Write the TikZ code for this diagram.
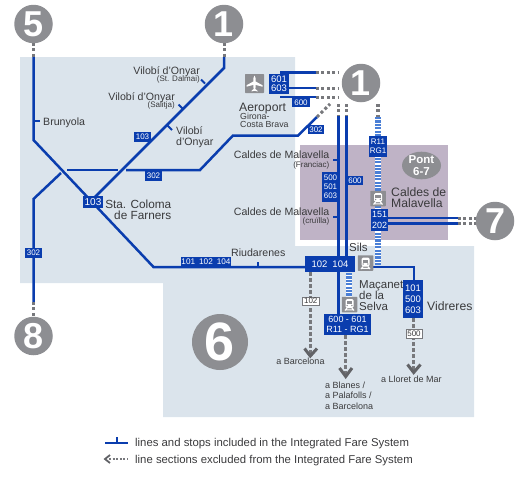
\documentclass[tikz,border=0pt]{standalone}
\usepackage{fontspec}
\usetikzlibrary{shapes.geometric}
\setmainfont{Liberation Sans}
\definecolor{zonea}{HTML}{DBE4EC}
\definecolor{zoneb}{HTML}{BFB3C6}
\definecolor{railc}{HTML}{0A3DAE}
\definecolor{stripe}{HTML}{4A7FD6}
\definecolor{discc}{HTML}{8D8E92}
\definecolor{dashg}{HTML}{77787C}
\definecolor{arrowg}{HTML}{626367}
\definecolor{txt}{HTML}{3A3A3C}
\newcommand\fs[1]{\fontsize{#1}{#1}\selectfont}
\tikzset{
 rail/.style={draw=railc,line width=2.5pt,line join=miter},
 tickm/.style={draw=railc,line width=2pt},
 offl/.style={draw=dashg,line width=3pt,dash pattern=on 3pt off 2.4pt},
 offlong/.style={draw=dashg,line width=3pt,dash pattern=on 3.5pt off 2.5pt},
 striped/.style={draw=stripe,line width=5.5pt,dash pattern=on 2.2pt off 1.2pt},
 stripeback/.style={draw=white,line width=5.5pt},
 chev/.style={draw=arrowg,line width=3pt,line join=miter},
 discn/.style={circle,fill=discc,inner sep=0pt,minimum size=38.5pt,text=white,font=\fs{36}\bfseries},
 bluebox/.style={fill=railc,text=white,inner sep=0pt,align=center,font=\fs{9}},
 whitebox/.style={fill=white,draw=dashg,line width=.7pt,text=txt,inner sep=0pt,font=\fs{8}},
 lab/.style={text=txt,inner sep=0pt,font=\fs{10.6}},
 biglab/.style={text=txt,inner sep=0pt,font=\fs{12.2}},
 smalllab/.style={text=txt,inner sep=0pt,font=\fs{8}},
 icon/.style={fill=discc,inner sep=0pt,rounded corners=.6pt},
}
% name, x1, y1, x2, y2, style, text
\newcommand\rbox[7]{%
 \pgfmathsetmacro\cx{(#2+#4)/2}\pgfmathsetmacro\cy{(#3+#5)/2}%
 \pgfmathsetmacro\bw{#4-#2}\pgfmathsetmacro\bh{#5-#3}%
 \node[#6,minimum width=\bw pt,minimum height=\bh pt] (#1) at (\cx,\cy) {#7};}
% train icon
\newcommand\trainicon[3]{%
 \node[icon,minimum size=15.5pt] (#1) at (#2,#3) {};
 \begin{scope}[shift={(#2,#3)}]
  \fill[white,rounded corners=1.5pt] (-4,-5.5) rectangle (4,3.5);
  \fill[discc] (-2.8,-3.5) rectangle (2.8,-.5);
  \fill[discc] (-2.4,1) circle (.8) (2.4,1) circle (.8);
  \draw[white,line width=1.1pt] (-2.5,3.5) -- (-4.5,6) (2.5,3.5) -- (4.5,6) (-3.5,5.4) -- (3.5,5.4);
 \end{scope}}
\begin{document}
\begin{tikzpicture}[x=1pt,y=-1pt]
\useasboundingbox (0,0) rectangle (526,482);
% zones
\fill[zonea] (20,57) -- (295,57) -- (295,246) -- (474,246) -- (474,417) -- (163,417) -- (163,283) -- (20,283) -- cycle;
\fill[zoneb] (300,145) rectangle (448,240);
% discs
\node[discn] (d5) at (33.5,24) {5};
\node[discn] (d1a) at (224,24) {1};
\node[discn] (d1b) at (361,83) {1};
\node[discn] (d7) at (495,221) {7};
\node[discn] (d8) at (33.5,336) {8};
\node[discn,minimum size=56pt,font=\fs{54}\bfseries] (d6) at (220,342) {6};
\node[fill=discc,ellipse,inner sep=0pt,minimum width=39pt,minimum height=27.5pt,text=white,align=center,font=\fs{11.5}\bfseries] (pont) at (421.5,165.5) {Pont\\[0pt]6-7};
% boxes positions
\coordinate (c5a) at (33.5,57);
\coordinate (c5b) at (33.5,140);
\coordinate (c5c) at (153.5,267);
\coordinate (c5d) at (305,267);
\coordinate (c1a) at (224,57);
\coordinate (c1b) at (224,68);
\coordinate (c302a) at (33.5,302);
\coordinate (c302b) at (33.5,199);
\coordinate (c302c) at (61,173);
\coordinate (c302d) at (67,170);
\coordinate (c302e) at (118,170);
\coordinate (c302f) at (126,170);
\coordinate (c302g) at (200,170);
\coordinate (c302h) at (233,135.5);
\coordinate (c302i) at (298,135.5);
\coordinate (c302j) at (317,117);
\coordinate (c302k) at (330,104);
\coordinate (c103end) at (95,197);
\coordinate (s5u) at (33.5,43);
\coordinate (s1u) at (224,43);
\coordinate (s8u) at (33.5,316);
% ---- rails
\draw[rail] (c5a) -- (c5b) -- (c5c) -- (c5d);
\draw[rail] (c1a) -- (c1b) -- (c103end);
\draw[rail] (c302a) -- (c302b) -- (c302c);
\draw[rail] (c302d) -- (c302e);
\draw[rail] (c302f) -- (c302g) -- (c302h) -- (c302i) -- (c302j);
% ---- off-system
\draw[offl] (s5u) -- (c5a);
\draw[offl] (s1u) -- (c1a);
\draw[offl] (c302a) -- (s8u);
\draw[offl] (c302j) -- (c302k);
% airport lines
\coordinate (a1) at (316,72.5); \coordinate (a1e) at (339,72.5);
\coordinate (a2) at (316,88);   \coordinate (a2e) at (339,88);
\coordinate (a3) at (316,97);   \coordinate (a3e) at (339,97);
\coordinate (a0t) at (280,72.5); \coordinate (a0b) at (280,97); \coordinate (a0m) at (285,88);
\draw[rail] (a0t) -- (a1);
\draw[rail] (a0m) -- (a2);
\draw[rail] (a0b) -- (a3);
\draw[offl] (a1) -- (a1e);
\draw[offl] (a2) -- (a2e);
\draw[offl] (a3) -- (a3e);
% verticals
\coordinate (vl0) at (338.7,104); \coordinate (vl1) at (338.7,116); \coordinate (vl2) at (338.7,314);
\coordinate (vr0) at (346.3,104); \coordinate (vr1) at (346.3,116); \coordinate (vr2) at (346.3,256);
\draw[rail] (vl1) -- (vl2);
\draw[rail] (vr1) -- (vr2);
\draw[offl] (vl0) -- (vl1);
\draw[offl] (vr0) -- (vr1);
% striped R11
\coordinate (st0) at (378,104); \coordinate (st1) at (378,117); \coordinate (st2) at (378,265);
\draw[stripeback] (st1) -- (st2);
\draw[striped] (st1) -- (st2);
\draw[offl,line width=4pt] (st0) -- (st1);
\coordinate (ms1) at (349,273); \coordinate (ms2) at (349,297);
\draw[stripeback] (ms1) -- (ms2);
\draw[striped] (ms1) -- (ms2);
% line 7
\coordinate (l7a) at (388,218.2); \coordinate (l7ae) at (458,218.2);
\coordinate (l7b) at (388,223.5); \coordinate (l7be) at (458,223.5);
\coordinate (l7ad) at (476,218.2); \coordinate (l7bd) at (476,223.5);
\draw[rail] (l7a) -- (l7ae); \draw[rail] (l7b) -- (l7be);
\draw[offl] (l7ae) -- (l7ad); \draw[offl] (l7be) -- (l7bd);
% Sils to Vidreres
\coordinate (vs) at (372,267); \coordinate (vd) at (414,280); \coordinate (vc) at (414,267);
\draw[rail] (vs) -- (vc) -- (vd);
% ticks
\draw[tickm] (33.5,121) -- (39.5,121);
\draw[tickm] (205,83.5) -- (201,79.5);
\draw[tickm] (183,109) -- (178.5,104.5);
\draw[tickm] (167.5,125.5) -- (172,130);
\draw[tickm] (333,160) -- (339,160);
\draw[tickm] (333,217) -- (339,217);
\draw[tickm] (258,267) -- (258,261.5);
% ---- boxes
\rbox{b103a}{134}{132}{151}{142}{bluebox,font=\fs{8}}{103}
\rbox{b103b}{83}{196}{103}{208}{bluebox,font=\fs{10}}{103}
\rbox{b302a}{145}{171}{162}{181}{bluebox,font=\fs{8}}{302}
\rbox{b302b}{25}{248}{42}{258}{bluebox,font=\fs{8}}{302}
\rbox{b302c}{308}{125}{324}{134}{bluebox,font=\fs{8}}{302}
\rbox{b601}{269}{74}{289}{94}{bluebox,font=\fs{9.5}}{601\\[-.5pt]603}
\rbox{b600a}{292}{98}{310}{107}{bluebox,font=\fs{8}}{600}
\rbox{b500}{322}{172}{339}{202}{bluebox,font=\fs{8}}{500\\[.8pt]501\\[.8pt]603}
\rbox{b600b}{347}{176}{363}{185}{bluebox,font=\fs{8}}{600}
\rbox{brg}{369}{136}{387}{157}{bluebox,font=\fs{8}}{R11\\[1.5pt]RG1}
\rbox{b151}{371}{209}{388}{231}{bluebox,font=\fs{9}}{151\\[1.5pt]202}
\rbox{b102}{305}{256}{355}{272}{bluebox,font=\fs{9.5}}{102\hspace{5pt}104}
\rbox{b101}{181}{257}{231}{267}{bluebox,font=\fs{8.2}}{101\hspace{4pt}102\hspace{4pt}104}
\rbox{bv}{403}{280}{423}{318}{bluebox,font=\fs{9.5}}{101\\[1.5pt]500\\[1.5pt]603}
\rbox{bm}{324}{314}{371}{335}{bluebox,font=\fs{9}}{600 - 601\\[.5pt]R11 - RG1}
% plane icon
\node[icon,minimum size=19pt] (plane) at (254.5,83.5) {};
\begin{scope}[shift={(254.5,83.5)}]
 \fill[white] (0,-8) .. controls (1.3,-7) and (1.2,-4) .. (1.2,-2) -- (8,1.8) -- (8,3.2) -- (1.2,1.4) -- (.9,5.5) -- (3,7.3) -- (3,8) -- (0,7.2) -- (-3,8) -- (-3,7.3) -- (-.9,5.5) -- (-1.2,1.4) -- (-8,3.2) -- (-8,1.8) -- (-1.2,-2) .. controls (-1.2,-4) and (-1.3,-7) .. (0,-8) -- cycle;
\end{scope}
\trainicon{tc}{378}{198.5}
\trainicon{ts}{365.5}{263}
\trainicon{tm}{349.5}{304.5}
% ---- down arrows
\coordinate (a102e) at (310.3,354);
\coordinate (amid) at (345.7,374);
\coordinate (avid) at (413.7,370);
\draw[offlong] (b102.south -| a102e) -- (a102e);
\draw[offlong] (bm.south -| amid) -- (amid);
\draw[offlong] (bv.south -| avid) -- (avid);
\draw[chev] (304.5,348.5) -- (310.3,356) -- (317,348.5);
\draw[chev] (339.5,368) -- (345.7,376.5) -- (352,368);
\draw[chev] (407.5,364.5) -- (413.7,372.5) -- (420.5,364.5);
\rbox{wb102}{302.5}{297}{319}{305}{whitebox}{102}
\rbox{wb500}{406}{329}{422}{338}{whitebox}{500}
% ---- labels
\node[lab,anchor=base west] (lbr) at (43,125) {Brunyola};
\node[lab,anchor=base east] (lv1) at (200,74) {Vilobí d'Onyar};
\node[smalllab,anchor=base east] (lv1s) at (200,81) {(St. Dalmai)};
\node[lab,anchor=base east] (lv2) at (175,100) {Vilobí d'Onyar};
\node[smalllab,anchor=base east] (lv2s) at (175,107) {(Salitja)};
\node[lab,anchor=base west] (lv3) at (176,134) {Vilobí};
\node[lab,anchor=base west] (lv3b) at (176,145) {d'Onyar};
\node[biglab,font=\fs{11.8},anchor=base east] (lsc) at (171.5,208) {Sta. Coloma};
\node[biglab,font=\fs{11.8},anchor=base east] (lsc2) at (171.5,219) {de Farners};
\node[biglab,anchor=base west] (lae) at (239,111) {Aeroport};
\node[smalllab,font=\fs{8.8},anchor=base west] (lag) at (240,119) {Girona-};
\node[smalllab,font=\fs{8.8},anchor=base west] (lac) at (240,127) {Costa Brava};
\node[lab,anchor=base east] (lcm1) at (329.5,158) {Caldes de Malavella};
\node[smalllab,anchor=base east] (lcm1s) at (329.5,167) {(Franciac)};
\node[lab,anchor=base east] (lcm2) at (329.5,215) {Caldes de Malavella};
\node[smalllab,anchor=base east] (lcm2s) at (329.5,223) {(cruïlla)};
\node[biglab,anchor=base west] (lcs) at (391,196.5) {Caldes de};
\node[biglab,anchor=base west] (lcs2) at (391,207.5) {Malavella};
\node[biglab,font=\fs{11.5},anchor=base west] (lsi) at (349,251) {Sils};
\node[lab,anchor=base west] (lri) at (231,256) {Riudarenes};
\node[biglab,font=\fs{11.5},anchor=base west] (lma) at (359,288) {Maçanet};
\node[biglab,font=\fs{11.5},anchor=base west] (lma2) at (359,299) {de la};
\node[biglab,font=\fs{11.5},anchor=base west] (lma3) at (359,310) {Selva};
\node[biglab,anchor=base west] (lvi) at (427,310) {Vidreres};
\node[smalllab,font=\fs{9},anchor=base] (lba) at (300.5,364) {a Barcelona};
\node[smalllab,font=\fs{9},anchor=base west] (lbl) at (325,388) {a Blanes /};
\node[smalllab,font=\fs{9},anchor=base west] (lpa) at (325,398.5) {a Palafolls /};
\node[smalllab,font=\fs{9},anchor=base west] (lbc) at (325,409) {a Barcelona};
\node[smalllab,font=\fs{9},anchor=base west] (lll) at (381,382) {a Lloret de Mar};
% ---- legend
\coordinate (k1a) at (105,443); \coordinate (k1b) at (128,443);
\coordinate (k1t) at (117,443); \coordinate (k1u) at (117,436.5);
\draw[rail] (k1a) -- (k1b);
\draw[tickm] (k1t) -- (k1u);
\coordinate (k2a) at (109,459); \coordinate (k2b) at (128,459);
\draw[draw=dashg,line width=1.5pt,dash pattern=on 2pt off 1.6pt] (k2a) -- (k2b);
\draw[draw=arrowg,line width=1.8pt] (110,455) -- (105,459) -- (110,463);
\node[text=txt,inner sep=0pt,font=\fs{11.35},anchor=base west] (k1) at (135,446) {lines and stops included in the Integrated Fare System};
\node[text=txt,inner sep=0pt,font=\fs{11.35},anchor=base west] (k2) at (135,463) {line sections excluded from the Integrated Fare System};
\end{tikzpicture}
\end{document}
